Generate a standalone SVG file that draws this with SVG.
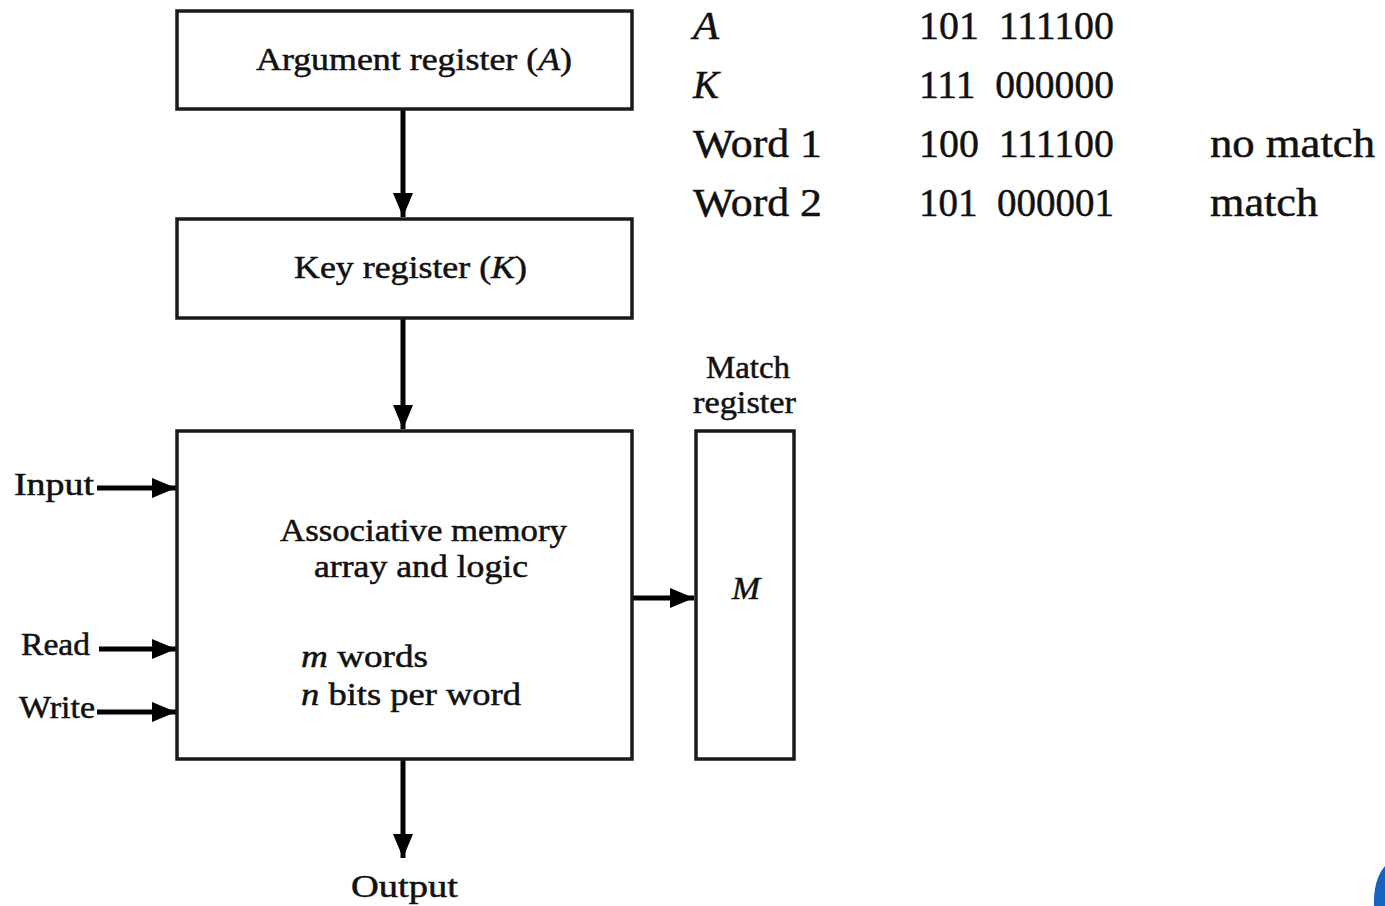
<svg xmlns="http://www.w3.org/2000/svg" width="1385" height="906" viewBox="0 0 1385 906">
  <style>
    .box { fill: #ffffff; stroke: #1a1a1a; stroke-width: 3.5; }
    .wire { stroke: #000000; stroke-width: 5; fill: none; marker-end: url(#head); }
    text { font-family: "Liberation Serif", "Times New Roman", serif; fill: #111111; stroke: #111111; stroke-width: 0.5; }
    .lbl { font-size: 31px; }
    .tbl { font-size: 41px; }
    .it { font-style: italic; }
    .pre { white-space: pre; }
  </style>
  <defs>
    <marker id="head" markerUnits="userSpaceOnUse" viewBox="0 0 24 20" refX="24" refY="10" markerWidth="24" markerHeight="20" orient="auto">
      <path d="M0,0 L24,10 L0,20 Z" fill="#000000"/>
    </marker>
  </defs>

  <rect width="1385" height="906" fill="#ffffff"/>

  <!-- connectors -->
  <g id="connectors">
    <line class="wire" x1="403" y1="109" x2="403" y2="217"/>
    <line class="wire" x1="403" y1="318" x2="403" y2="429"/>
    <line class="wire" x1="97" y1="488" x2="176" y2="488"/>
    <line class="wire" x1="99" y1="649" x2="176" y2="649"/>
    <line class="wire" x1="97" y1="712" x2="176" y2="712"/>
    <line class="wire" x1="632" y1="598" x2="694" y2="598"/>
    <line class="wire" x1="403" y1="760" x2="403" y2="858"/>
  </g>

  <!-- argument register -->
  <g id="arg-register">
    <rect class="box" x="177" y="11" width="455" height="98"/>
    <text class="lbl" x="256" y="70" textLength="316" lengthAdjust="spacingAndGlyphs">Argument register (<tspan class="it">A</tspan>)</text>
  </g>

  <!-- key register -->
  <g id="key-register">
    <rect class="box" x="177" y="219" width="455" height="99"/>
    <text class="lbl" x="294" y="278" textLength="233" lengthAdjust="spacingAndGlyphs">Key register (<tspan class="it">K</tspan>)</text>
  </g>

  <!-- memory array -->
  <g id="memory-array">
    <rect class="box" x="177" y="431" width="455" height="328"/>
    <text class="lbl" x="280" y="541" textLength="287" lengthAdjust="spacingAndGlyphs">Associative memory</text>
    <text class="lbl" x="314" y="577" textLength="214" lengthAdjust="spacingAndGlyphs">array and logic</text>
    <text class="lbl" x="301" y="667" textLength="127" lengthAdjust="spacingAndGlyphs"><tspan class="it">m</tspan> words</text>
    <text class="lbl" x="301" y="705" textLength="220" lengthAdjust="spacingAndGlyphs"><tspan class="it">n</tspan> bits per word</text>
  </g>

  <!-- match register -->
  <g id="match-register">
    <rect class="box" x="696" y="431" width="98" height="328"/>
    <text class="lbl" x="706" y="378" textLength="84" lengthAdjust="spacingAndGlyphs">Match</text>
    <text class="lbl" x="693" y="413" textLength="103" lengthAdjust="spacingAndGlyphs">register</text>
    <text class="lbl it" x="732" y="599" textLength="28" lengthAdjust="spacingAndGlyphs">M</text>
  </g>

  <!-- side signals -->
  <g id="inputs">
    <text class="lbl" x="14" y="495" textLength="80" lengthAdjust="spacingAndGlyphs">Input</text>
    <text class="lbl" x="21" y="655" textLength="69" lengthAdjust="spacingAndGlyphs">Read</text>
    <text class="lbl" x="19" y="718" textLength="76" lengthAdjust="spacingAndGlyphs">Write</text>
  </g>
  <g id="output">
    <text class="lbl" x="351" y="897" textLength="107" lengthAdjust="spacingAndGlyphs">Output</text>
  </g>

  <!-- example table -->
  <g id="example">
    <text class="tbl it" x="693" y="39" textLength="26" lengthAdjust="spacingAndGlyphs">A</text>
    <text class="tbl it" x="693" y="98" textLength="26" lengthAdjust="spacingAndGlyphs">K</text>
    <text class="tbl" x="693" y="157" textLength="129" lengthAdjust="spacingAndGlyphs">Word 1</text>
    <text class="tbl" x="693" y="216" textLength="129" lengthAdjust="spacingAndGlyphs">Word 2</text>
    <text class="tbl pre" x="919" y="39" textLength="195" lengthAdjust="spacingAndGlyphs" xml:space="preserve">101  111100</text>
    <text class="tbl pre" x="919" y="98" textLength="195" lengthAdjust="spacingAndGlyphs" xml:space="preserve">111  000000</text>
    <text class="tbl pre" x="919" y="157" textLength="195" lengthAdjust="spacingAndGlyphs" xml:space="preserve">100  111100</text>
    <text class="tbl pre" x="919" y="216" textLength="195" lengthAdjust="spacingAndGlyphs" xml:space="preserve">101  000001</text>
    <text class="tbl" x="1210" y="157" textLength="165" lengthAdjust="spacingAndGlyphs">no match</text>
    <text class="tbl" x="1210" y="216" textLength="108" lengthAdjust="spacingAndGlyphs">match</text>
  </g>

  <!-- corner badge -->
  <path d="M1385,866 Q1373,880 1374,906 L1385,906 Z" fill="#1565c0"/>
</svg>
